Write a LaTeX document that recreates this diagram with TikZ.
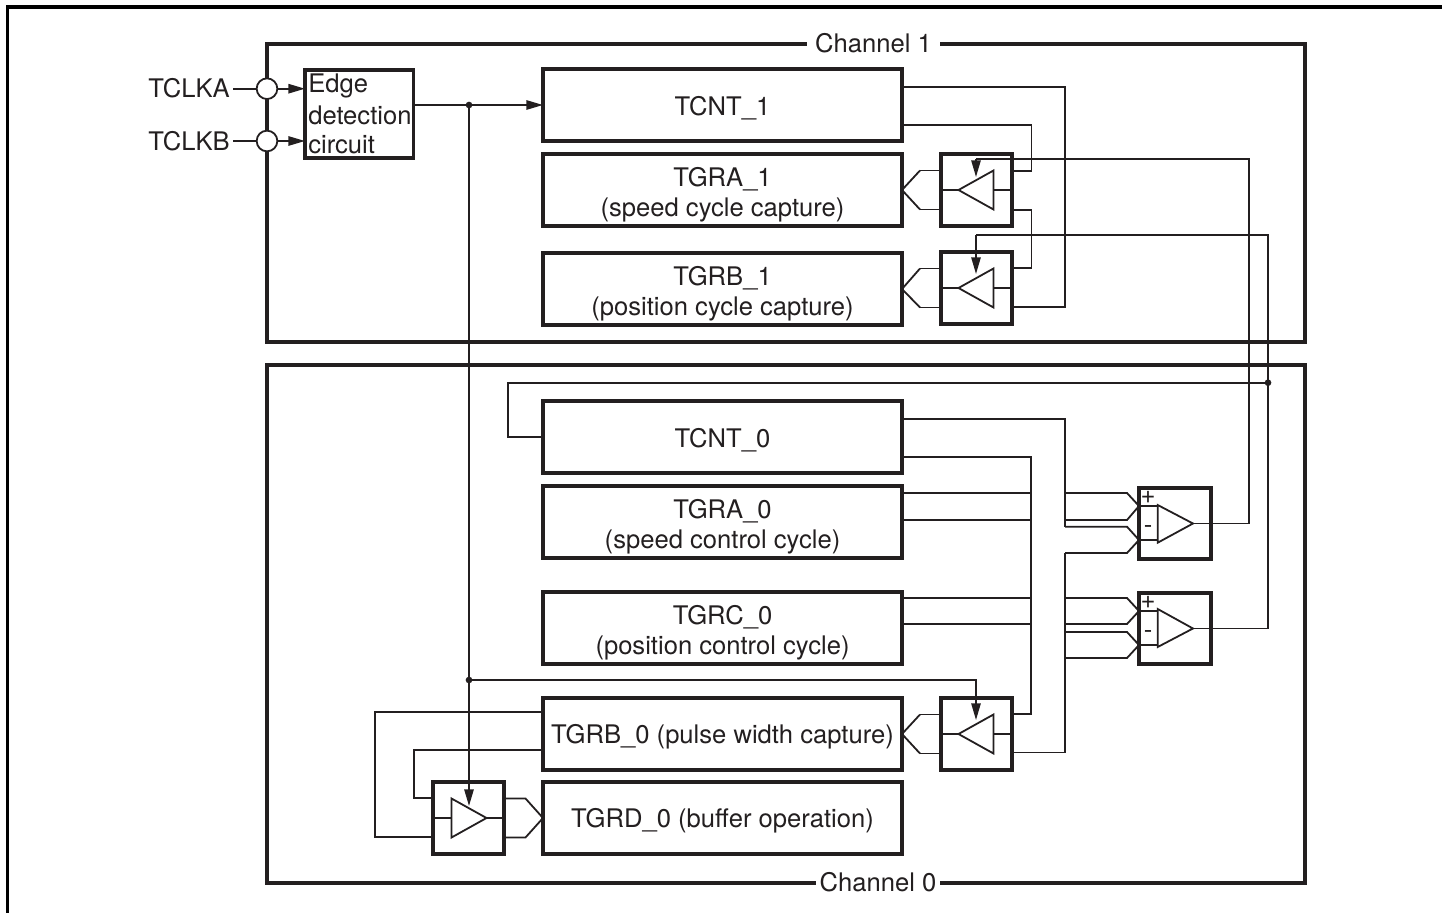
\documentclass[tikz,border=0pt]{standalone}
\usepackage{fontspec}
\setmainfont{TeX Gyre Heros}
\usetikzlibrary{arrows.meta,calc}
\definecolor{ink}{HTML}{231F20}
% box: name, x1, y1, x2, y2, text
\newcommand{\boxn}[7][]{%
  \pgfmathsetmacro{\bw}{(#5-#3)*0.75}%
  \pgfmathsetmacro{\bh}{(#6-#4)*0.75}%
  \node[blockbox,minimum width=\bw pt,minimum height=\bh pt,#1] (#2) at ({(#3+#5)/2},{(#4+#6)/2}) {#7};}
\newcommand{\oneline}{\rule{0pt}{18.5pt}}
\newcommand{\twoline}{\rule{0pt}{21pt}}
% buffer triangle pointing left, with its stubs and the fork to the register
\newcommand{\latchleft}[1]{%
  \draw[wire] ($(#1.center)+(-18,0)$) -- ($(#1.center)+(17,-19.5)$) -- ($(#1.center)+(17,19.5)$) -- cycle;
  \draw[wire] (#1.west) -- ($(#1.center)+(-18,0)$);
  \draw[wire] ($(#1.center)+(17,0)$) -- (#1.east);
  \draw[wire] (#1.west) ++(0,-19.5) -- ++(-21,0) coordinate (#1fb);
  \draw[wire] (#1.west) ++(0,19.5) -- ++(-21,0) coordinate (#1fd);
}
\tikzset{
  blockbox/.style={draw=ink,line width=2.5pt,fill=none,inner sep=0pt,outer sep=0pt,text=ink,align=center,font=\fontsize{19.2}{22.5}\selectfont},
  wire/.style={draw=ink,line width=1.35pt,line join=miter},
  frame/.style={draw=black,line width=2.8pt},
  chanbox/.style={draw=ink,line width=2.5pt,inner sep=0pt,outer sep=0pt},
  lbl/.style={text=ink,inner sep=0pt,font=\fontsize{19.2}{22}\selectfont},
  gap/.style={text=ink,fill=white,inner ysep=1pt,font=\fontsize{19.2}{22}\selectfont},
  tip/.style={-{Triangle[length=12.5pt,width=7pt]}},
  dot/.style={circle,fill=ink,draw=none,minimum size=5pt,inner sep=0pt,outer sep=0pt},
  ring/.style={circle,draw=ink,fill=white,line width=1.35pt,minimum size=15.5pt,inner sep=0pt,outer sep=0pt},
}
\begin{document}
\begin{tikzpicture}[x=0.75pt,y=-0.75pt]
\useasboundingbox (0,0) rectangle (1442,913);
% page frame
\draw[frame] (7.5,913) -- (7.5,7.3) -- (1442,7.3);
% channel frames
\node[chanbox,minimum width=778.5pt,minimum height=223.5pt] (ch1) at (786,193) {};
\node[chanbox,minimum width=778.5pt,minimum height=388.5pt] (ch0) at (786,624) {};
\node[gap,inner xsep=6pt] (ch1lab) at (873.5,43) {Channel 1};
\node[gap,inner xsep=2.5pt] (ch0lab) at (878,882) {Channel 0};
% blocks
\boxn{edge}{305}{70}{413.5}{158}{}
\boxn{tcnta}{543}{69}{902}{141}{\oneline TCNT\_1}
\boxn{tgraa}{543}{154}{902}{226}{\twoline TGRA\_1\\(speed cycle capture)}
\boxn{tgrba}{543}{253}{902}{325}{\twoline TGRB\_1\\(position cycle capture)}
\boxn{tcntb}{543}{401}{902}{473}{\oneline TCNT\_0}
\boxn{tgrab}{543}{486}{902}{558}{\twoline TGRA\_0\\(speed control cycle)}
\boxn{tgrcb}{543}{592}{902}{664}{\twoline TGRC\_0\\(position control cycle)}
\boxn{tgrbb}{543}{698}{902}{770}{\oneline TGRB\_0 (pulse width capture)}
\boxn{tgrdb}{543}{782}{902}{854}{\oneline TGRD\_0 (buffer operation)}
\boxn{la}{941}{154}{1012}{226}{}
\boxn{lb}{941}{252}{1012}{324}{}
\boxn{lc}{941}{698}{1012}{770}{}
\boxn{ld}{433}{782}{504}{854}{}
\boxn{cpa}{1139}{488}{1211}{559}{}
\boxn{cpb}{1139}{593}{1211}{664}{}
\node[lbl,anchor=west] (e1) at (308,86) {Edge};
\node[lbl,anchor=west] (e2) at (308,115.5) {detection};
\node[lbl,anchor=west] (e3) at (308,144.5) {circuit};
% inputs
\node[lbl,anchor=east] (tca) at (230,88) {TCLKA};
\node[lbl,anchor=east] (tcb) at (230,141) {TCLKB};
\node[ring] (ra) at (267,88.7) {};
\node[ring] (rb) at (267,141) {};
\draw[wire] (tca.east) ++(3,0.7) -- (ra);
\draw[wire] (tcb.east) ++(3,0) -- (rb);
\coordinate (eina) at (305,88.7);
\coordinate (einb) at (305,141);
\draw[wire,tip] (ra) -- (eina);
\draw[wire,tip] (rb) -- (einb);
% clock distribution
\node[dot] (ja) at (469,105) {};
\node[dot] (jb) at (469,680) {};
\node[dot] (jc) at (1268,382.7) {};
\draw[wire] (edge.east |- ja) -- (ja);
\draw[wire,tip] (ja) -- (tcnta.west);
\coordinate (ldclk) at (469,806);
\draw[wire,tip] (ja) -- (ldclk);
\coordinate (lcclk) at (976,720);
\draw[wire,tip] (jb) -| (lcclk);
% latches
\latchleft{la}
\latchleft{lb}
\latchleft{lc}
\draw[wire] (lafb) -- (tgraa.east) -- (lafd);
\draw[wire] (lbfb) -- (tgrba.east) -- (lbfd);
\draw[wire] (lcfb) -- (tgrbb.east) -- (lcfd);
% ld buffer (points right)
\draw[wire] ($(ld.center)+(-17,-19.5)$) -- ($(ld.center)+(18,0)$) -- ($(ld.center)+(-17,19.5)$) -- cycle;
\draw[wire] (ld.west) -- ($(ld.center)+(-17,0)$);
\draw[wire] ($(ld.center)+(18,0)$) -- (ld.east);
\draw[wire] (ld.east) ++(0,-19.5) -- ++(21.5,0) coordinate (ldu) -- (tgrdb.west);
\draw[wire] (ld.east) ++(0,19.5) -- ++(21.5,0) coordinate (ldd) -- (tgrdb.west);
% channel 1 wires
\draw[wire] (tcnta.east) ++(0,-18) -- (1065,87) -- (1065,306.7) -- (1012,306.7);
\draw[wire] (tcnta.east) ++(0,20) -- (1031.5,125) -- (1031.5,171) -- (1012,171);
\draw[wire] (la.east) ++(0,20) -- (1031.5,210) -- (1031.5,268) -- (1012,268);
\coordinate (laclk) at (976,177);
\coordinate (lbclk) at (976,274);
\draw[wire] (cpa.east) -- (1249,523.5) -- (1249,159) -- (976,159);
\draw[wire,tip] (976,159) -- (laclk);
\draw[wire] (jc.center) -- (1268,235) -- (976,235);
\draw[wire,tip] (976,235) -- (lbclk);
\draw[wire] (jc.center) -- (1268,628.5) -- (cpb.east);
% TCNT_0 feedback
\draw[wire] (tcntb.west) -- (508,437) -- (508,382.7) -- (jc.center);
% channel 0 wires
\draw[wire] (tcntb.east) ++(0,-18) -- (1065,419) -- (1065,526.7);
\draw[wire] (tcntb.east) ++(0,20) -- (1031,457) -- (1031,714) -- (1012,714);
\draw[wire] (tgrab.east) ++(0,-29) -- (1031,493);
\draw[wire] (tgrab.east) ++(0,-2) -- (1031,520);
\draw[wire] (tgrcb.east) ++(0,-30) -- (1031,598);
\draw[wire] (tgrcb.east) ++(0,-4) -- (1031,624);
\draw[wire] (1065,553) -- (1065,752.5) -- (1012,752.5);
% comparators
\draw[wire] (1157.7,505) -- (1193,523.5) -- (1157.7,542.7) -- cycle;
\draw[wire] (1193,523.5) -- (cpa.east);
\draw[wire] (1139,506) -- (1157.7,506);
\draw[wire] (1139,540) -- (1157.7,540);
\draw[wire] (1157.7,609) -- (1193,628.5) -- (1157.7,647) -- cycle;
\draw[wire] (1193,628.5) -- (cpb.east);
\draw[wire] (1139,611) -- (1157.7,611);
\draw[wire] (1139,645) -- (1157.7,645);
\draw[wire] (1065,493) -- (1127,493) -- (1139,506);
\draw[wire] (1065,520) -- (1127,520) -- (1139,506);
\draw[wire] (1065,526.7) -- (1127,526.7) -- (1139,540);
\draw[wire] (1065,553) -- (1127,553) -- (1139,540);
\draw[wire] (1065,598) -- (1127,598) -- (1139,611);
\draw[wire] (1065,624) -- (1127,624) -- (1139,611);
\draw[wire] (1065,632) -- (1127,632) -- (1139,645);
\draw[wire] (1065,658) -- (1127,658) -- (1139,645);
\node[lbl] (pa) at (1148,497) {+};
\node[lbl] (ma) at (1148,530) {-};
\node[lbl] (pb) at (1148,602) {+};
\node[lbl] (mb) at (1148,635) {-};
% TGRB_0 / TGRD_0 buffer
\draw[wire] (tgrbb.west) ++(0,-22) -- (375,712) -- (375,837) -- (433,837);
\draw[wire] (tgrbb.west) ++(0,16) -- (414,750) -- (414,798) -- (433,798);
\end{tikzpicture}
\end{document}
